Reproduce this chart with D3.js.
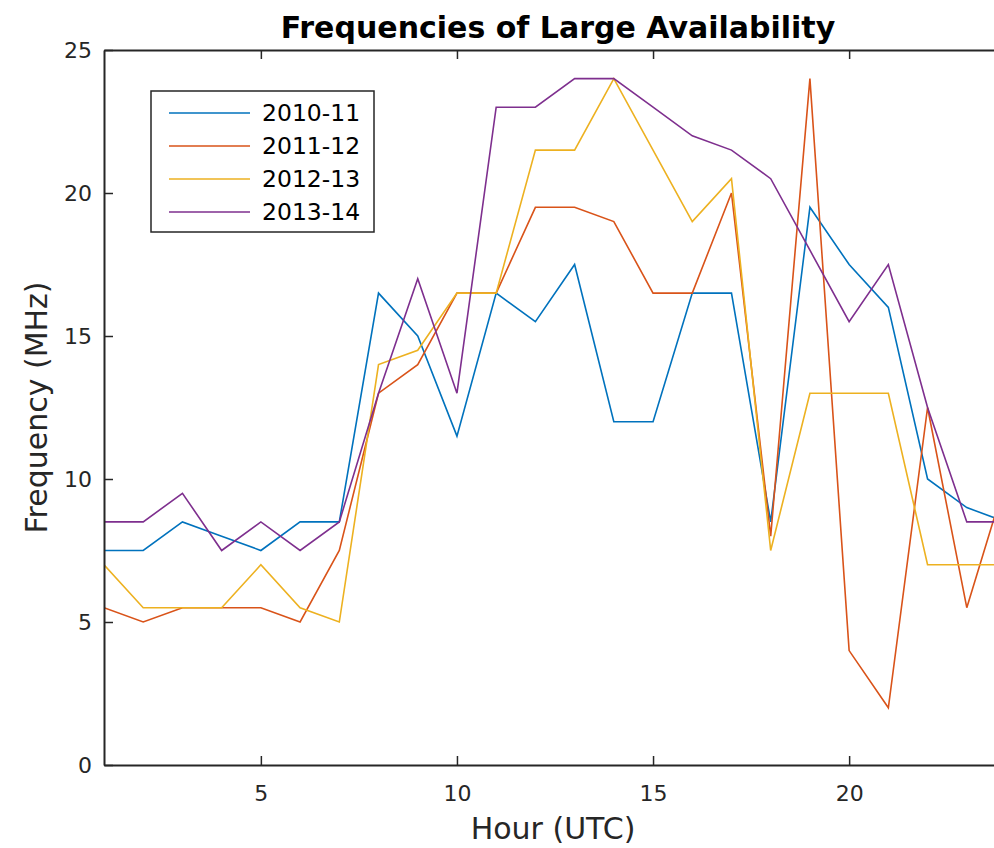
<!DOCTYPE html>
<html lang="en">
<head>
    <meta charset="UTF-8">
    <title>Frequencies of Large Availability</title>
    <script src="https://d3js.org/d3.v7.min.js"></script>
    <style>
        body {
            margin: 0;
            padding: 0;
            background-color: #ffffff;
            font-family: 'DejaVu Sans', sans-serif;
        }
        svg { display: block; }
    </style>
</head>
<body>
<svg id="chart" width="994" height="848"></svg>

<script>
    // hours of the day (UTC)
    const hours = [1, 2, 3, 4, 5, 6, 7, 8, 9, 10, 11, 12, 13, 14, 15, 16, 17, 18, 19, 20, 21, 22, 23, 24];

    // frequency (MHz) per season
    const s2010_11 = [7.5, 7.5, 8.5, 8, 7.5, 8.5, 8.5, 16.5, 15, 11.5, 16.5, 15.5, 17.5, 12, 12, 16.5, 16.5, 8.5, 19.5, 17.5, 16, 10, 9, 8.5];
    const s2011_12 = [5.5, 5, 5.5, 5.5, 5.5, 5, 7.5, 13, 14, 16.5, 16.5, 19.5, 19.5, 19, 16.5, 16.5, 20, 8, 24, 4, 2, 12.5, 5.5, 10];
    const s2012_13 = [7, 5.5, 5.5, 5.5, 7, 5.5, 5, 14, 14.5, 16.5, 16.5, 21.5, 21.5, 24, 21.5, 19, 20.5, 7.5, 13, 13, 13, 7, 7, 7];
    const s2013_14 = [8.5, 8.5, 9.5, 7.5, 8.5, 7.5, 8.5, 13, 17, 13, 23, 23, 24, 24, 23, 22, 21.5, 20.5, 18, 15.5, 17.5, 12.5, 8.5, 8.5];

    const seasons = ["2010-11", "2011-12", "2012-13", "2013-14"];
    const colors = ["#0072BD", "#D95319", "#EDB120", "#7E2F8E"];

    const xTicks = [5, 10, 15, 20];
    const yTicks = [0, 5, 10, 15, 20, 25];

    const series = [s2010_11, s2011_12, s2012_13, s2013_14].map((vals, i) => ({
        name: seasons[i],
        color: colors[i],
        values: hours.map((h, j) => ({ hour: h, freq: vals[j] }))
    }));

    const svg = d3.select("#chart");
    const axisColor = "#262626";

    // plot box (the right edge runs past the picture, as in the original)
    const boxLeft = 104, boxRight = 1006, boxTop = 50, boxBottom = 765;

    const x = d3.scaleLinear().domain([1, 24]).range([boxLeft, boxRight]);
    const y = d3.scaleLinear().domain([0, 25]).range([boxBottom, boxTop]);

    // data lines
    const line = d3.line()
        .x(d => x(d.hour))
        .y(d => y(d.freq));

    svg.append("defs").append("clipPath").attr("id", "plotClip")
        .append("rect")
        .attr("x", boxLeft).attr("y", boxTop)
        .attr("width", boxRight - boxLeft).attr("height", boxBottom - boxTop);

    const plot = svg.append("g").attr("clip-path", "url(#plotClip)");

    plot.selectAll(".series")
        .data(series)
        .enter().append("path")
        .attr("class", "series")
        .attr("d", d => line(d.values))
        .attr("fill", "none")
        .attr("stroke", d => d.color)
        .attr("stroke-width", 1.6)
        .attr("stroke-linejoin", "miter");

    // axes: ticks point inward like MATLAB
    const tickLen = 9;

    const xBottom = d3.axisBottom(x).tickValues(xTicks).tickSizeInner(-tickLen).tickSizeOuter(0).tickPadding(20);
    const xTop = d3.axisTop(x).tickValues(xTicks).tickSizeInner(-tickLen).tickSizeOuter(0).tickFormat("");
    const yLeft = d3.axisLeft(y).tickValues(yTicks).tickSizeInner(-tickLen).tickSizeOuter(0).tickPadding(12);
    const yRight = d3.axisRight(y).tickValues(yTicks).tickSizeInner(-tickLen).tickSizeOuter(0).tickFormat("");

    function styleAxis(g) {
        g.select(".domain").attr("stroke", axisColor).attr("stroke-width", 2);
        g.selectAll(".tick line").attr("stroke", axisColor).attr("stroke-width", 1.5);
        g.selectAll(".tick text")
            .attr("fill", axisColor)
            .style("font-family", "'DejaVu Sans', sans-serif")
            .style("font-size", "22px");
    }

    svg.append("g").attr("transform", `translate(0,${boxBottom})`).call(xBottom).call(styleAxis);
    svg.append("g").attr("transform", `translate(0,${boxTop})`).call(xTop).call(styleAxis);
    svg.append("g").attr("transform", `translate(${boxLeft},0)`).call(yLeft).call(styleAxis);
    svg.append("g").attr("transform", `translate(${boxRight},0)`).call(yRight).call(styleAxis);

    // title and axis labels
    svg.append("text")
        .attr("x", 558)
        .attr("y", 38)
        .attr("text-anchor", "middle")
        .style("font-family", "'DejaVu Sans', sans-serif")
        .style("font-weight", "bold")
        .style("font-size", "30px")
        .attr("fill", "#000")
        .text("Frequencies of Large Availability");

    svg.append("text")
        .attr("x", 553)
        .attr("y", 839)
        .attr("text-anchor", "middle")
        .style("font-family", "'DejaVu Sans', sans-serif")
        .style("font-size", "30px")
        .attr("fill", axisColor)
        .text("Hour (UTC)");

    svg.append("text")
        .attr("transform", `translate(47,${(boxTop + boxBottom) / 2}) rotate(-90)`)
        .attr("text-anchor", "middle")
        .style("font-family", "'DejaVu Sans', sans-serif")
        .style("font-size", "30px")
        .attr("fill", axisColor)
        .text("Frequency (MHz)");

    // legend
    const legend = svg.append("g").attr("transform", "translate(151,91)");
    legend.append("rect")
        .attr("width", 223).attr("height", 141)
        .attr("fill", "#fff")
        .attr("stroke", axisColor)
        .attr("stroke-width", 1.5);

    const item = legend.selectAll(".item")
        .data(series)
        .enter().append("g")
        .attr("class", "item")
        .attr("transform", (d, i) => `translate(0,${22 + i * 33})`);

    item.append("line")
        .attr("x1", 18).attr("x2", 99)
        .attr("stroke", d => d.color)
        .attr("stroke-width", 1.6);

    item.append("text")
        .attr("x", 111)
        .attr("dy", "0.35em")
        .style("font-family", "'DejaVu Sans', sans-serif")
        .style("font-size", "23.5px")
        .attr("fill", "#000")
        .text(d => d.name);
</script>
</body>
</html>
